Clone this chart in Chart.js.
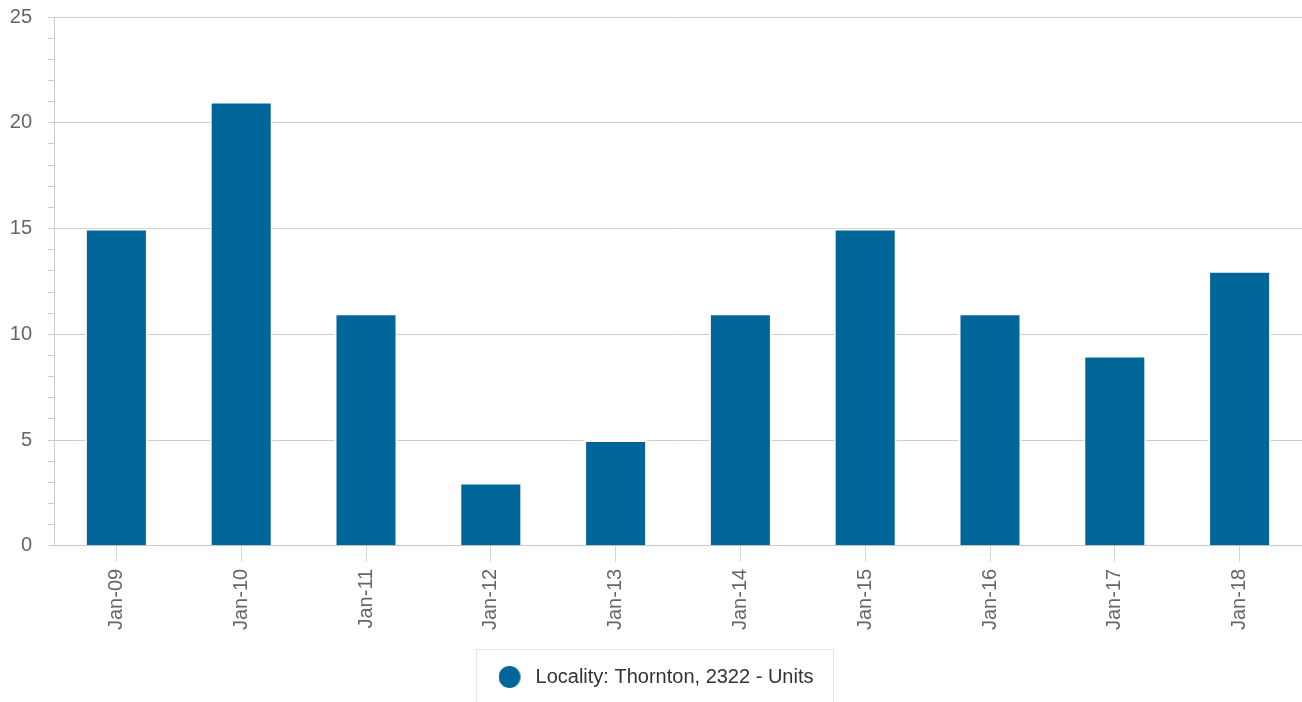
<!DOCTYPE html>
<html>
<head>
<meta charset="utf-8">
<script src="https://cdn.jsdelivr.net/npm/chart.js@4.4.1/dist/chart.umd.min.js"></script>
<style>
html,body{margin:0;padding:0;background:#fff;}
#wrap{width:1302px;height:702px;position:relative;}
</style>
</head>
<body>
<div id="wrap"><canvas id="c"></canvas></div>
<script>
const categories = ['Jan-09','Jan-10','Jan-11','Jan-12','Jan-13','Jan-14','Jan-15','Jan-16','Jan-17','Jan-18'];
const seriesName = 'Locality: Thornton, 2322 - Units';
const seriesValues = [15, 21, 11, 3, 5, 11, 15, 11, 9, 13];
const yMajorTicks = [0, 5, 10, 15, 20, 25];

const BAR = '#006699';
const FONT = '"Liberation Sans", Arial, Helvetica, sans-serif';

// legend marker image: circle offset to the left of a wider box
const marker = document.createElement('canvas');
marker.width = 27; marker.height = 22;
(function(){
  const m = marker.getContext('2d');
  m.fillStyle = BAR;
  m.beginPath(); m.arc(11, 11, 11, 0, Math.PI*2); m.fill();
})();

const legendFrame = {
  id: 'legendFrame',
  afterDraw(chart) {
    const lg = chart.legend;
    if (!lg || !lg.legendHitBoxes || !lg.legendHitBoxes.length) return;
    const hb = lg.legendHitBoxes[0];
    const ctx = chart.ctx;
    const cy = hb.top + hb.height / 2;
    ctx.save();
    ctx.strokeStyle = '#e6e6e6';
    ctx.lineWidth = 1;
    ctx.strokeRect(Math.round(hb.left - 23) + 0.5, Math.round(cy - 28) + 0.5, Math.round(hb.width + 42), 90);
    ctx.restore();
  }
};

new Chart(document.getElementById('c'), {
  type: 'bar',
  data: {
    labels: categories,
    datasets: [{
      label: seriesName,
      data: seriesValues,
      backgroundColor: BAR,
      borderColor: '#ffffff',
      borderWidth: 2,
      barPercentage: 0.505,
      categoryPercentage: 1.0
    }]
  },
  options: {
    responsive: true,
    maintainAspectRatio: false,
    animation: false,
    layout: { padding: { left: 10, top: 17, right: 0, bottom: 5 } },
    plugins: {
      tooltip: { enabled: false },
      legend: {
        position: 'bottom',
        labels: {
          usePointStyle: true,
          pointStyle: marker,
          pointStyleWidth: 27,
          padding: 21,
          color: '#333333',
          font: { family: FONT, size: 20 }
        }
      }
    },
    scales: {
      x: {
        offset: true,
        grid: {
          offset: false,
          drawOnChartArea: false,
          drawTicks: true,
          tickLength: 16,
          tickColor: '#ccd6eb',
          tickWidth: 1
        },
        border: { display: true, color: '#c8c8c8', width: 1 },
        ticks: {
          minRotation: 90,
          maxRotation: 90,
          padding: 7,
          autoSkip: false,
          color: '#666666',
          font: { family: FONT, size: 20 }
        },
        afterFit(scale) { scale.height += 9; scale.paddingLeft = 0; scale.paddingRight = 0; }
      },
      y: {
        min: 0,
        max: 25,
        grid: {
          color: (ctx) => (yMajorTicks.includes(ctx.tick && ctx.tick.value) ? '#cccccc' : 'rgba(0,0,0,0)'),
          tickColor: '#cccccc',
          tickLength: 6,
          lineWidth: 1
        },
        border: { display: true, color: '#cccccc', width: 1 },
        ticks: {
          stepSize: 1,
          autoSkip: false,
          padding: 16,
          color: '#666666',
          font: { family: FONT, size: 20 },
          callback: (v) => (yMajorTicks.includes(v) ? String(v) : '')
        },
        afterFit(scale) { scale.width = 44; scale.paddingTop = 0; scale.paddingBottom = 0; }
      }
    }
  },
  plugins: [legendFrame]
});
</script>
</body>
</html>
